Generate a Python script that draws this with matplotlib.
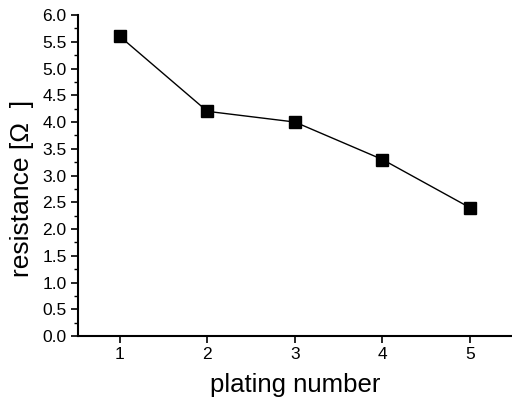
import matplotlib.pyplot as plt
from matplotlib.ticker import MultipleLocator

plt.rcParams['font.family'] = ['Liberation Sans', 'DejaVu Sans']

plating = [1, 2, 3, 4, 5]
resistance = [5.6, 4.2, 4.0, 3.3, 2.4]

fig = plt.figure(figsize=(5.12, 4.05), dpi=100)
ax = fig.add_axes([0.152, 0.170, 0.848, 0.793])

ax.plot(plating, resistance, color='black', lw=1.0, marker='s', ms=8,
        mfc='black', mec='black')

ax.set_xlim(0.52, 5.48)
ax.set_ylim(0, 6.0)
ax.xaxis.set_major_locator(MultipleLocator(1))
ax.yaxis.set_major_locator(MultipleLocator(0.5))
ax.yaxis.set_minor_locator(MultipleLocator(0.25))
ax.set_yticklabels([f"{v:.1f}" for v in ax.get_yticks()])

for s in ['top', 'right']:
    ax.spines[s].set_visible(False)
for s in ['left', 'bottom']:
    ax.spines[s].set_linewidth(1.5)

ax.tick_params(axis='both', which='major', direction='out', length=5, width=1.2,
               labelsize=12.5, pad=3)
ax.tick_params(axis='y', which='minor', direction='out', length=3, width=1.0)

ax.set_xlabel('plating number', fontsize=18.5, labelpad=8)
ax.set_ylabel('resistance [Ω  ]', fontsize=19)
ax.yaxis.set_label_coords(-0.10, 0.46)

fig.savefig('out.png', dpi=100)
